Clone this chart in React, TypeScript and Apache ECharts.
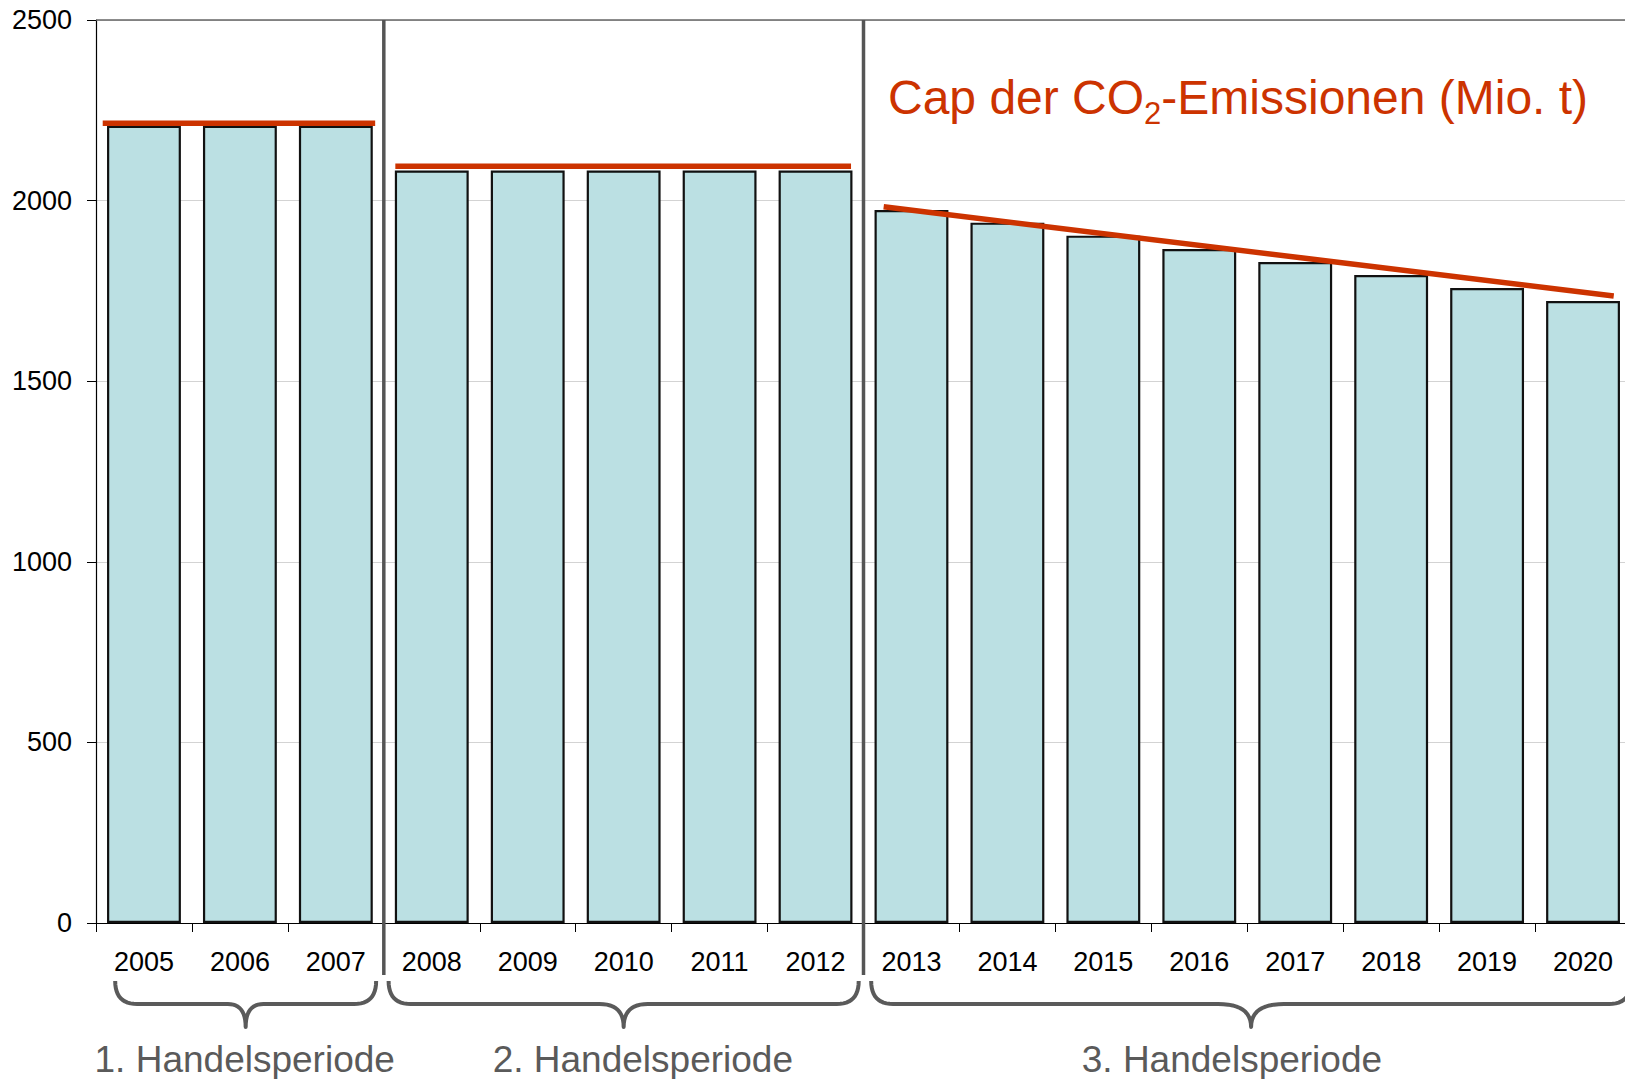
import React, { useEffect, useRef } from 'react';
import * as echarts from 'echarts';

// ---- data ----
const years = ['2005', '2006', '2007', '2008', '2009', '2010', '2011', '2012', '2013', '2014', '2015', '2016', '2017', '2018', '2019', '2020'];
const emissions = [2207, 2207, 2207, 2083, 2083, 2083, 2083, 2083, 1974, 1939, 1903, 1866, 1830, 1794, 1758, 1722];
const periodNames = ['1. Handelsperiode', '2. Handelsperiode', '3. Handelsperiode'];
const periodFirst = [0, 3, 8]; // first category index of each period
const periodLast = [2, 7, 15]; // last category index of each period
const capStartValue = [2214, 2095, 1983];
const capEndValue = [2214, 2095, 1736];
const yMin = 0;
const yMax = 2500;
const yStep = 500;
const capTitleMain = 'Cap der CO';
const capTitleSub = '2';
const capTitleRest = '-Emissionen (Mio. t)';

// ---- layout / style (category units relative to period boundaries) ----
const capInset = [[0.07, 0.09], [0.12, 0.13], [0.21, 0.18]];
const braceInset = [[0.2, 0.08], [0.05, 0.05], [0.08, 0.0]];
const labelShift = [0.05, 0.2, -0.16];

const FONT = '"Liberation Sans", Arial, Helvetica, sans-serif';
const RED = '#cc3300';
const GRAY = '#5a5a5a';

function quad(p0: number[], c: number[], p1: number[], n: number, out: number[][]) {
  for (let i = 1; i <= n; i++) {
    const t = i / n;
    const a = (1 - t) * (1 - t), b = 2 * (1 - t) * t, d = t * t;
    out.push([a * p0[0] + b * c[0] + d * p1[0], a * p0[1] + b * c[1] + d * p1[1]]);
  }
}

function bracePoints(xL: number, xR: number, yTop: number, yMid: number, yTip: number) {
  const w = xR - xL;
  const R = 22;
  const R2 = 10 + 0.03 * w;
  const xc = (xL + xR) / 2;
  const pts: number[][] = [[xL, yTop]];
  quad([xL, yTop], [xL, yMid], [xL + R, yMid], 12, pts);
  pts.push([xc - R2, yMid]);
  quad([xc - R2, yMid], [xc, yMid], [xc, yTip], 12, pts);
  quad([xc, yTip], [xc, yMid], [xc + R2, yMid], 12, pts);
  pts.push([xR - R, yMid]);
  quad([xR - R, yMid], [xR, yMid], [xR, yTop], 12, pts);
  return pts;
}

export default function App() {
  const ref = useRef<HTMLDivElement>(null);

  useEffect(() => {
    if (!ref.current) return;
    const chart = echarts.init(ref.current, null, { renderer: 'svg' });

    const capSeries = periodFirst.map((f, i) => ({
      type: 'line',
      xAxisIndex: 1,
      yAxisIndex: 0,
      symbol: 'none',
      silent: true,
      z: 5,
      lineStyle: { color: RED, width: 5.5, cap: 'butt' },
      data: [
        [f + capInset[i][0], capStartValue[i]],
        [periodLast[i] + 1 - capInset[i][1], capEndValue[i]],
      ],
    }));

    chart.setOption({
      animation: false,
      backgroundColor: '#ffffff',
      grid: { left: 96, right: 0, top: 20, bottom: 156, containLabel: false },
      xAxis: [
        {
          type: 'category',
          data: years,
          boundaryGap: true,
          axisLine: { show: true, lineStyle: { color: '#000', width: 1.2 } },
          axisTick: { show: true, length: 9, lineStyle: { color: '#000', width: 1 } },
          axisLabel: { color: '#000', fontSize: 27, fontFamily: FONT, margin: 25, interval: 0 },
          splitLine: { show: false },
        },
        { type: 'value', min: 0, max: years.length, show: false },
      ],
      yAxis: {
        type: 'value',
        min: yMin,
        max: yMax,
        interval: yStep,
        axisLine: { show: true, lineStyle: { color: '#000', width: 1.2 } },
        axisTick: { show: true, length: 9, lineStyle: { color: '#000' } },
        axisLabel: {
          color: '#000',
          fontSize: 27,
          fontFamily: FONT,
          margin: 24,
          formatter: (v: number) => String(v),
        },
        splitLine: { show: true, lineStyle: { color: '#d3d3d3', width: 1.2 } },
      },
      series: [
        {
          type: 'bar',
          data: emissions,
          barCategoryGap: '23%',
          itemStyle: { color: '#bbe0e3', borderColor: '#111', borderWidth: 2.2 },
          z: 2,
        },
        ...capSeries,
      ],
    });

    const px = (v: number) => chart.convertToPixel({ xAxisIndex: 1 }, v) as number;
    const py = (v: number) => chart.convertToPixel({ yAxisIndex: 0 }, v) as number;
    const yTop = py(yMax);

    const graphics: any[] = [];
    // top border line
    graphics.push({
      type: 'line',
      z: 10,
      shape: { x1: px(0), y1: yTop, x2: 1640, y2: yTop },
      style: { stroke: '#666', lineWidth: 1.6 },
    });
    // period separators
    periodFirst.slice(1).forEach((f) => {
      const x = px(f);
      graphics.push({
        type: 'line',
        z: 10,
        shape: { x1: x, y1: yTop, x2: x, y2: 975 },
        style: { stroke: '#555', lineWidth: 3.5 },
      });
    });
    // braces and labels
    periodFirst.forEach((f, i) => {
      const xL = px(f + braceInset[i][0]);
      const xR = px(periodLast[i] + 1 - braceInset[i][1]);
      graphics.push({
        type: 'polyline',
        z: 10,
        shape: { points: bracePoints(xL, xR, 981, 1004, 1027) },
        style: { stroke: GRAY, lineWidth: 4, fill: null, lineJoin: 'round' },
      });
      const cx = px((f + periodLast[i] + 1) / 2 + labelShift[i]);
      graphics.push({
        type: 'text',
        z: 10,
        x: cx,
        y: 1059.5,
        style: {
          text: periodNames[i],
          fill: GRAY,
          font: `37px ${FONT}`,
          align: 'center',
          verticalAlign: 'middle',
        },
      });
    });
    // cap title with subscript
    graphics.push({
      type: 'text',
      z: 10,
      x: 888,
      y: 97,
      style: {
        text: `{a|${capTitleMain}}{s|${capTitleSub}}{a|${capTitleRest}}`,
        align: 'left',
        verticalAlign: 'middle',
        rich: {
          a: { fontSize: 48, fontFamily: FONT, fill: RED, lineHeight: 63 },
          s: { fontSize: 31, fontFamily: FONT, fill: RED, lineHeight: 30, verticalAlign: 'bottom' },
        },
      },
    });

    chart.setOption({ graphic: graphics });

    return () => chart.dispose();
  }, []);

  return (
    <div style={{ position: 'fixed', left: 0, top: 0, width: 1625, height: 1079, overflow: 'hidden', background: '#fff' }}>
      <div ref={ref} style={{ width: 1631, height: 1079 }} />
    </div>
  );
}
